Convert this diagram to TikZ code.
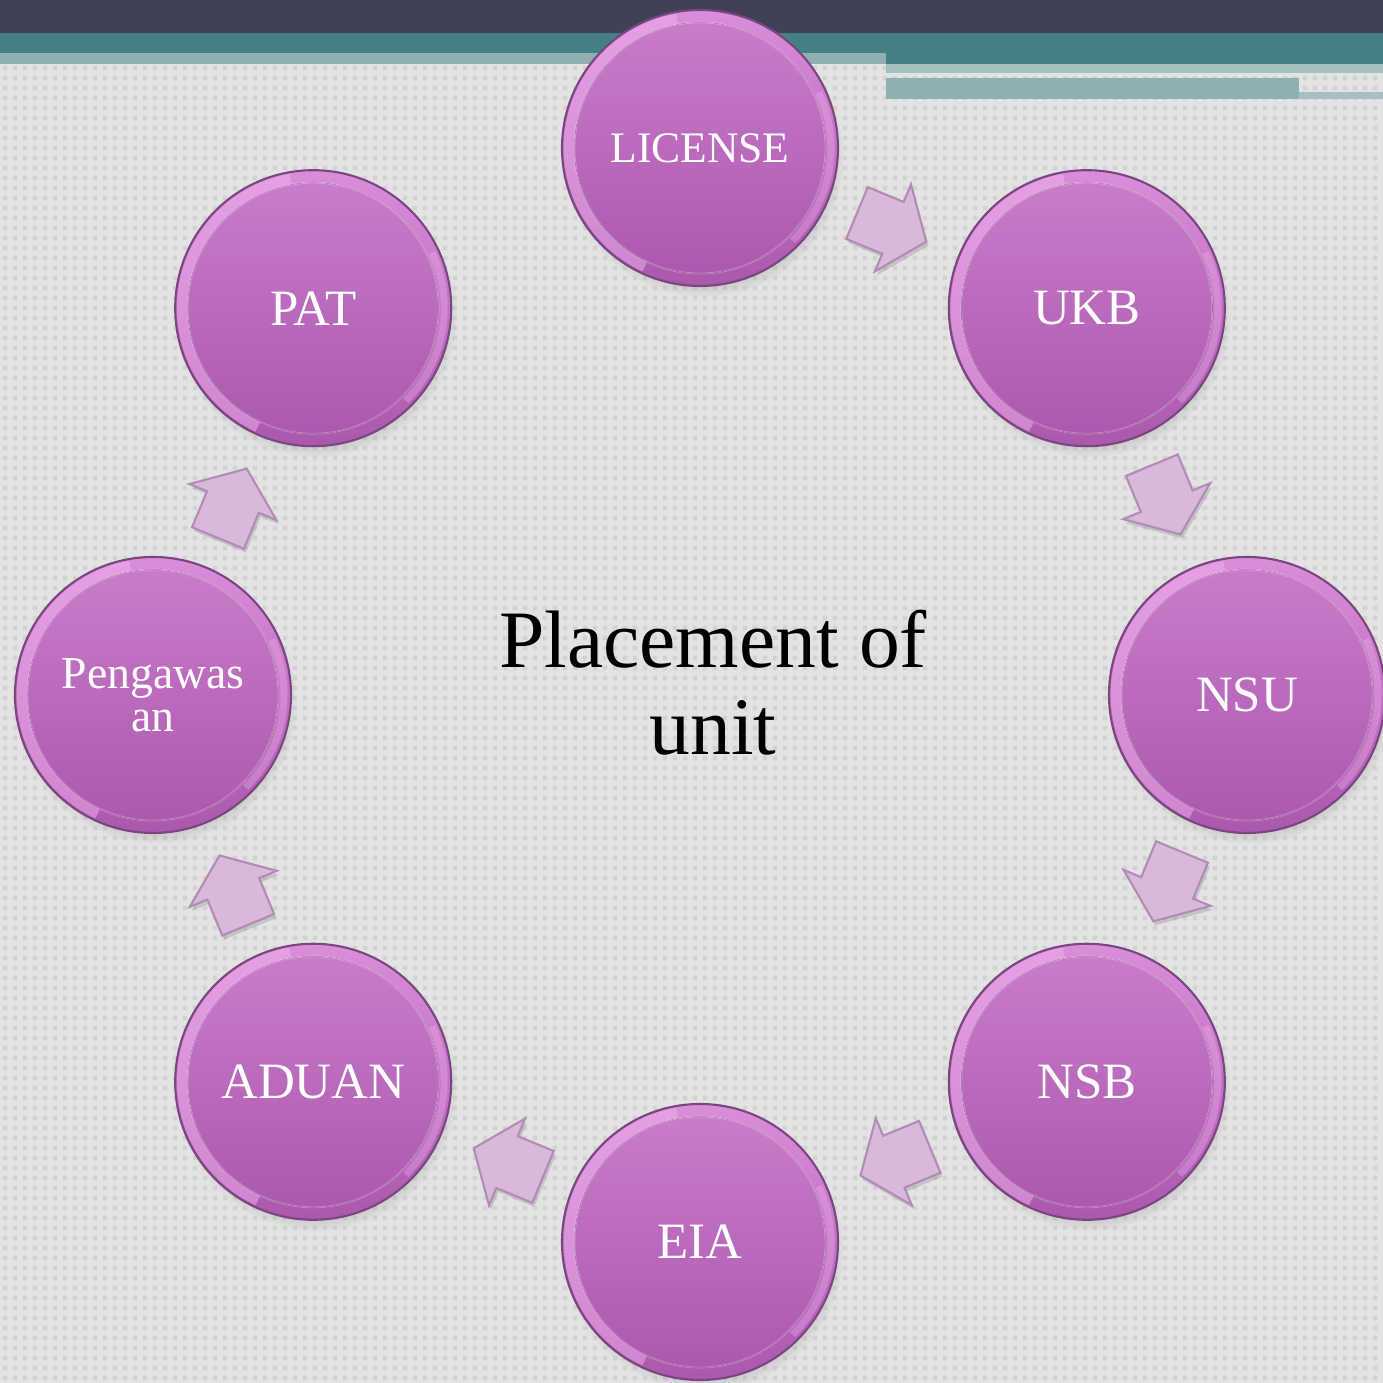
\documentclass[tikz,border=0pt]{standalone}
\usepackage{fontspec}
\setmainfont{Liberation Serif}
\usetikzlibrary{shapes.arrows,shadows,patterns}

\definecolor{barDark}{HTML}{404157}
\definecolor{barTeal}{HTML}{457F86}
\definecolor{barLight}{HTML}{8FAFB2}
\definecolor{barPale}{HTML}{A6BFC1}
\definecolor{paper}{HTML}{E3E3E3}
\definecolor{paperDot}{HTML}{D2D2D2}
\definecolor{rimTop}{HTML}{D98ED9}
\definecolor{rimBot}{HTML}{AA58AC}
\definecolor{rimLine}{HTML}{7A4680}
\definecolor{rimGlow}{HTML}{F2B2F2}
\definecolor{faceTop}{HTML}{C97CCA}
\definecolor{faceBot}{HTML}{AC58AE}
\definecolor{flowFill}{HTML}{D8B9D9}
\definecolor{flowEdge}{HTML}{B28BB6}

% tiny squares of the paper texture
\pgfdeclarepatternformonly{paperdots}{\pgfqpoint{0pt}{0pt}}{\pgfqpoint{2.845pt}{2.845pt}}{\pgfqpoint{2.845pt}{2.845pt}}{%
  \pgfpathrectangle{\pgfqpoint{0.85pt}{0.85pt}}{\pgfqpoint{1.15pt}{1.15pt}}%
  \pgfusepath{fill}}

\tikzset{
  unit/.style={circle, minimum size=2.76cm, inner sep=0pt, align=center, text=white,
    draw=rimLine, line width=0.6pt, top color=rimTop, bottom color=rimBot,
    circular drop shadow={shadow xshift=0.03cm, shadow yshift=-0.08cm, shadow scale=1.02, opacity=0.4},
    path picture={
      \draw[rimGlow, line width=3pt, opacity=0.5] (path picture bounding box.center) ++(100:1.31) arc (100:245:1.31);
      \draw[rimGlow, line width=2pt, opacity=0.35] (path picture bounding box.center) ++(-45:1.31) arc (-45:25:1.31);
      \fill[top color=faceTop, bottom color=faceBot] (path picture bounding box.center) circle (1.255cm);
      \draw[white, opacity=0.25, line width=0.5pt] (path picture bounding box.center) circle (1.255cm);
    }},
  flow/.style={single arrow, minimum height=0.75cm, inner xsep=0pt, inner ysep=0.27cm,
    single arrow head extend=0.19cm, single arrow tip angle=105,
    fill=flowFill, draw=flowEdge, line width=0.6pt,
    drop shadow={shadow xshift=0.02cm, shadow yshift=-0.04cm, opacity=0.3}},
}

\begin{document}
\begin{tikzpicture}
  \useasboundingbox (0,0) rectangle (13.83,13.83);
  % paper and header bars
  \fill[paper] (0,0) rectangle (13.83,13.83);
  \fill[pattern=paperdots, pattern color=paperDot] (0,0) rectangle (13.83,13.83);
  \fill[barDark] (0,13.50) rectangle (13.83,13.83);
  \fill[barTeal] (0,13.30) rectangle (13.83,13.50);
  \fill[barLight] (0,13.19) rectangle (8.86,13.30);
  \fill[barTeal] (8.86,13.19) rectangle (13.83,13.30);
  \fill[barPale] (8.86,13.10) rectangle (13.83,13.19);
  \fill[barLight] (8.86,12.84) rectangle (12.99,13.05);
  \fill[barPale] (12.99,12.84) rectangle (13.83,12.91);

  \coordinate (ctr) at (7.00,6.88);
  \node[font=\fontsize{23.2}{24.7}\selectfont, align=center] (title) at (7.13,7.00) {Placement of\\unit};

  % the ring of units
  \node[unit, font=\fontsize{12.4}{13}\selectfont] (lic) at ([shift={(90:5.47)}]ctr) {LICENSE};
  \foreach \nm/\ang/\txt in {ukb/45/UKB, nsu/0/NSU, nsb/-45/NSB, eia/-90/EIA, adu/-135/ADUAN, pat/135/PAT}
    \node[unit, font=\fontsize{14.5}{15}\selectfont] (\nm) at ([shift={(\ang:5.47)}]ctr) {\txt};
  \node[unit, font=\fontsize{13}{12.2}\selectfont] (pen) at ([shift={(180:5.47)}]ctr) {Pengawas\\an};

  % block arrows between neighbours
  \foreach \a/\b in {lic/ukb, ukb/nsu, nsu/nsb, nsb/eia, eia/adu, adu/pen, pen/pat}
    \path[allow upside down] (\a) -- node[flow, sloped, pos=0.41] {} (\b);
\end{tikzpicture}
\end{document}
